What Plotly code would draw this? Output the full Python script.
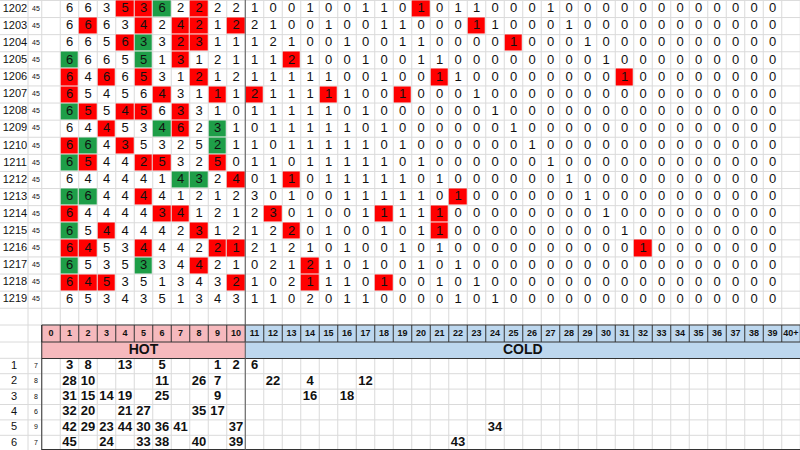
import numpy as np
import plotly.graph_objects as go

# top grid: draw labels, values for columns 1..39, colour marks (r = red, g = green)
draw_ids = list(range(1202, 1220))
draw_small = [45] * 18
rows_txt = [
    "6 6 3 5 3 6 2 2 2 2 1 0 0 1 0 0 1 1 0 1 0 1 1 0 0 0 1 0 0 0 0 0 0 0 0 0 0 0 0",
    "6 6 6 3 4 2 4 2 1 2 2 1 0 0 1 0 0 1 1 0 0 0 1 1 0 0 0 1 0 0 0 0 0 0 0 0 0 0 0",
    "6 6 5 6 3 3 2 3 1 1 1 2 1 0 0 1 0 0 1 1 0 0 0 0 1 0 0 0 1 0 0 0 0 0 0 0 0 0 0",
    "6 6 6 5 5 1 3 1 2 1 1 1 2 1 0 0 1 0 0 1 1 0 0 0 0 0 0 0 0 1 0 0 0 0 0 0 0 0 0",
    "6 4 6 6 5 3 1 2 1 2 1 1 1 1 1 0 0 1 0 0 1 1 0 0 0 0 0 0 0 0 1 0 0 0 0 0 0 0 0",
    "6 5 4 5 6 4 3 1 1 1 2 1 1 1 1 1 0 0 1 0 0 0 1 0 0 0 0 0 0 0 0 0 0 0 0 0 0 0 0",
    "6 5 5 4 5 6 3 3 1 0 1 1 1 1 1 0 1 0 0 0 0 0 0 1 0 0 0 0 0 0 0 0 0 0 0 0 0 0 0",
    "6 4 4 5 3 4 6 2 3 1 0 1 1 1 1 1 0 1 0 0 0 0 0 0 1 0 0 0 0 0 0 0 0 0 0 0 0 0 0",
    "6 6 4 3 5 3 2 5 2 1 1 0 1 1 1 1 1 0 1 0 0 0 0 0 0 1 0 0 0 0 0 0 0 0 0 0 0 0 0",
    "6 5 4 4 2 5 3 2 5 0 1 1 0 1 1 1 1 1 0 1 0 0 0 0 0 0 1 0 0 0 0 0 0 0 0 0 0 0 0",
    "6 4 4 4 4 1 4 3 2 4 0 1 1 0 1 1 1 1 1 0 1 0 0 0 0 0 0 1 0 0 0 0 0 0 0 0 0 0 0",
    "6 6 4 4 4 4 1 2 1 2 3 0 1 0 0 1 1 1 1 1 0 1 0 0 0 0 0 0 1 0 0 0 0 0 0 0 0 0 0",
    "6 4 4 4 4 3 4 1 2 1 2 3 0 1 0 0 1 1 1 1 1 0 0 0 0 0 0 0 0 1 0 0 0 0 0 0 0 0 0",
    "6 5 4 4 4 4 2 3 1 2 1 2 2 0 1 0 0 1 0 1 1 0 0 0 0 0 0 0 0 0 1 0 0 0 0 0 0 0 0",
    "6 4 5 3 4 4 4 2 2 1 2 1 2 1 0 1 0 0 1 0 1 0 0 0 0 0 0 0 0 0 0 1 0 0 0 0 0 0 0",
    "6 5 3 5 3 3 4 4 2 1 0 2 1 2 1 0 1 0 0 1 0 1 0 0 0 0 0 0 0 0 0 0 0 0 0 0 0 0 0",
    "6 4 5 3 5 1 3 4 3 2 1 0 2 1 1 1 0 1 0 0 1 0 1 0 0 0 0 0 0 0 0 0 0 0 0 0 0 0 0",
    "6 5 3 4 3 5 1 3 4 3 1 1 0 2 0 1 1 0 0 0 0 1 0 1 0 0 0 0 0 0 0 0 0 0 0 0 0 0 0",
]
# (row index, column) of the coloured cells
red_cells = [(0, 4), (0, 5), (0, 8), (0, 20),
             (1, 2), (1, 5), (1, 7), (1, 8), (1, 10), (1, 23),
             (2, 4), (2, 7), (2, 8), (2, 25),
             (3, 7), (3, 13),
             (4, 1), (4, 3), (4, 5), (4, 8), (4, 21), (4, 31),
             (5, 1), (5, 6), (5, 9), (5, 11), (5, 15), (5, 19),
             (6, 2), (6, 4), (6, 5), (6, 7),
             (7, 3), (7, 7),
             (8, 1), (8, 4),
             (9, 2), (9, 5), (9, 6), (9, 9),
             (10, 10), (10, 13),
             (11, 5), (11, 22),
             (12, 1), (12, 6), (12, 7), (12, 12), (12, 18), (12, 21),
             (13, 3), (13, 8), (13, 13), (13, 21),
             (14, 1), (14, 2), (14, 5), (14, 9), (14, 10), (14, 32),
             (15, 8), (15, 14),
             (16, 1), (16, 2), (16, 3), (16, 10), (16, 14), (16, 18)]
green_cells = [(0, 6), (2, 5), (3, 1), (3, 5), (6, 1), (7, 6), (7, 9),
               (8, 2), (8, 9), (9, 1), (10, 7), (10, 8), (11, 1), (11, 2),
               (13, 1), (15, 1), (15, 5)]

# bottom table
freq_ids = [1, 2, 3, 4, 5, 6]
freq_small = [7, 8, 8, 6, 9, 7]
col_labels = [str(i) for i in range(40)] + ["40+"]
freq_cells = [
    {1: 3, 2: 8, 4: 13, 6: 5, 9: 1, 10: 2, 11: 6},
    {1: 28, 2: 10, 6: 11, 8: 26, 9: 7, 12: 22, 14: 4, 17: 12},
    {1: 31, 2: 15, 3: 14, 4: 19, 6: 25, 9: 9, 14: 16, 16: 18},
    {1: 32, 2: 20, 4: 21, 5: 27, 8: 35, 9: 17},
    {1: 42, 2: 29, 3: 23, 4: 44, 5: 30, 6: 36, 7: 41, 10: 37, 24: 34},
    {1: 45, 3: 24, 5: 33, 6: 38, 8: 40, 10: 39, 22: 43},
]

# geometry (pixels of the sheet)
CW, X0 = 18.5, 51
TOP_Y0, TOP_H = 9, 17.1
HDR_Y, BAND_Y = 333.5, 350
BOT_Y0, BOT_H = 366, 15.4
FONT = "Liberation Sans, Arial, sans-serif"
RED, GREEN = "#ff0000", "#1e9e48"
PINK, BLUE = "#f6b9bd", "#bdd7ee"
GRID = "#dadada"

def cx(c):
    return X0 + CW * c

def ty(r):
    return TOP_Y0 + TOP_H * r

def by(r):
    return BOT_Y0 + BOT_H * r

def hline(y, x0=-10, x1=820, color=GRID, layer="below"):
    return dict(type="line", x0=x0, x1=x1, y0=y, y1=y, layer=layer, line=dict(color=color, width=1))

def vline(x, y0=-10, y1=470, color=GRID, layer="below"):
    return dict(type="line", x0=x, x1=x, y0=y0, y1=y1, layer=layer, line=dict(color=color, width=1))

fig = go.Figure()
ncol = 41

shapes = []
for c in range(ncol + 1):
    shapes.append(vline(cx(c) - CW / 2))
shapes += [vline(28)]
for r in range(19):
    shapes.append(hline(ty(r) - TOP_H / 2))
shapes += [hline(325), hline(342)]
for r in range(7):
    shapes.append(hline(by(r) - BOT_H / 2))

# top colour heatmap
z = np.full((len(draw_ids), ncol), np.nan)
for r, c in red_cells:
    z[r, c] = 1
for r, c in green_cells:
    z[r, c] = 2
fig.add_trace(go.Heatmap(
    z=z, x=[cx(c) for c in range(ncol)], y=[ty(r) for r in range(len(draw_ids))],
    colorscale=[[0, RED], [0.5, RED], [0.5, GREEN], [1, GREEN]], zmin=1, zmax=2,
    showscale=False, hoverinfo="skip", xgap=1, ygap=1))

# bottom header heatmap
hz = np.array([[0 if c <= 10 else 1 for c in range(ncol)]] * 2, dtype=float)
fig.add_trace(go.Heatmap(
    z=hz, x=[cx(c) for c in range(ncol)], y=[HDR_Y, BAND_Y],
    colorscale=[[0, PINK], [0.5, PINK], [0.5, BLUE], [1, BLUE]], zmin=0, zmax=1,
    showscale=False, hoverinfo="skip"))

# header cell borders
x_left, x_right = cx(0) - CW / 2, cx(40) + CW / 2
for c in range(ncol + 1):
    shapes.append(vline(cx(c) - CW / 2, 325, 342, "#333", "above"))
for y in [325, 342, 358.5, 449.5]:
    shapes.append(hline(y, x_left, x_right, "#333", "above"))
shapes.append(vline(x_left, 325, 450, "#333", "above"))
shapes.append(vline(cx(10) + CW / 2, -10, 450, "#555", "above"))

def text_trace(xs, ys, texts, size, bold=False):
    return go.Scatter(x=xs, y=ys, text=texts, mode="text", hoverinfo="skip", cliponaxis=False,
                      textfont=dict(family=FONT, size=size, color="#111",
                                    weight="bold" if bold else "normal"))

tx, tyy, tt = [], [], []
for r, line in enumerate(rows_txt):
    for i, v in enumerate(line.split()):
        tx.append(cx(i + 1)); tyy.append(ty(r)); tt.append(v)
fig.add_trace(text_trace(tx, tyy, tt, 13))
fig.add_trace(text_trace([15] * len(draw_ids), [ty(r) for r in range(len(draw_ids))],
                         [str(d) for d in draw_ids], 11))
fig.add_trace(text_trace([36] * len(draw_ids), [ty(r) for r in range(len(draw_ids))],
                         [str(d) for d in draw_small], 7))

fig.add_trace(text_trace([cx(c) for c in range(ncol)], [HDR_Y] * ncol, col_labels, 9, True))
fig.add_trace(text_trace([cx(5), cx(25.5)], [BAND_Y] * 2, ["HOT", "COLD"], 14, True))

bx, byy, bt = [], [], []
for r, cells in enumerate(freq_cells):
    for c, v in cells.items():
        bx.append(cx(c)); byy.append(by(r)); bt.append(str(v))
fig.add_trace(text_trace(bx, byy, bt, 13, True))
fig.add_trace(text_trace([14] * 6, [by(r) for r in range(6)], [str(v) for v in freq_ids], 11))
fig.add_trace(text_trace([36] * 6, [by(r) for r in range(6)], [str(v) for v in freq_small], 7))

fig.update_layout(
    width=800, height=450, margin=dict(l=0, r=0, t=0, b=0),
    paper_bgcolor="white", plot_bgcolor="white", showlegend=False, shapes=shapes,
    xaxis=dict(range=[0, 800], visible=False, fixedrange=True),
    yaxis=dict(range=[450, 0], visible=False, fixedrange=True),
)
# drop the default page margin so the sheet sits at the window's corner
fig.write_html("out.html", config={"displayModeBar": False},
               post_script="document.body.style.margin='0';document.body.style.overflow='hidden';")
